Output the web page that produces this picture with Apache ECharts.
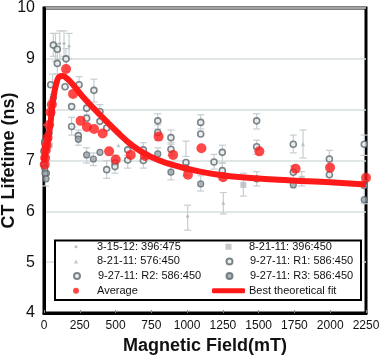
<!DOCTYPE html>
<html><head><meta charset="utf-8">
<script src="https://cdn.jsdelivr.net/npm/echarts@6/dist/echarts.min.js"></script>
<style>html,body{margin:0;padding:0;background:#fff}#c{width:382px;height:360px}</style>
</head><body><div id="c"></div>
<script>
// ---- data (x in mT, y in ns) ----
const xTicks = [0,250,500,750,1000,1250,1500,1750,2000,2250];
const yTicks = [4,5,6,7,8,9,10];

const run31512 = [[80,9.2],[110,9.3],[140,9.3],[175,9.25],[20,7.45],[10,6.7],[1004,5.90],[60,8.5]];
const run82111_576 = [[1253,6.17],[1810,7.32],[50,7.95],[520,7.3],[880,6.95]];
const run82111_396 = [[1393,6.52],[1801,6.64],[40,7.3]];
const runR1 = [[0,7.18],[5,7.37],[28,7.42],[51,7.93],[65,9.27],[93,8.91],[147,8.45],[193,8.06],[245,8.49],[298,7.83],[391,7.96],[438,7.64],[496,6.95],[585,7.21],[694,7.21],[795,7.78],[887,7.45],[992,6.96],[1095,7.75],[1188,6.97],[1246,7.16],[1486,7.78],[1742,7.32],[1994,7.03],[2238,7.32]];
const runR2 = [[5,7.08],[0,6.92],[16,6.75],[35,7.54],[47,8.49],[93,9.19],[154,9.0],[193,7.67],[240,7.49],[298,8.03],[349,8.38],[391,7.77],[438,6.82],[496,6.88],[585,7.01],[694,7.0],[795,7.55],[887,7.22],[992,6.85],[1095,7.52],[1246,6.80],[1486,7.27],[1742,6.77],[1994,6.72],[2238,6.51]];
const runR3 = [[5,7.34],[7,6.75],[14,6.64],[5,6.85],[65,8.23],[240,7.42],[298,7.11],[345,7.03],[391,7.16],[795,7.13],[887,6.77],[1095,6.54],[1486,6.64],[1742,6.52],[2238,6.23]];
const average = [[5,6.92],[8,7.05],[12,7.2],[18,7.3],[25,7.45],[35,7.7],[45,7.95],[55,8.1],[154,8.80],[203,8.31],[256,7.78],[300,7.66],[350,7.62],[410,7.53],[455,7.18],[501,7.02],[606,7.11],[706,7.09],[801,7.47],[902,7.11],[1006,6.72],[1100,7.24],[1251,6.67],[1505,7.18],[1758,6.84],[1999,6.86],[2250,6.66]];
const bestFit = [[0,7.0],[20,7.3],[42,7.66],[63,8.19],[85,8.5],[107,8.65],[130,8.66],[158,8.62],[200,8.5],[273,8.25],[391,7.90],[508,7.57],[624,7.28],[741,7.08],[857,6.95],[1090,6.78],[1300,6.69],[1635,6.62],[1999,6.57],[2250,6.53]];
// error bars: [x, low, high]
const errorBars = [[80,8.95,9.5],[110,9.0,9.55],[140,9.05,9.55],[175,9.0,9.5],[65,9.05,9.5],[93,8.7,9.3],[154,8.75,9.2],[245,8.3,8.65],[349,8.15,8.6],[298,7.9,8.2],[391,7.8,8.1],[240,7.3,7.6],[193,7.5,7.85],[298,6.95,7.25],[345,6.9,7.15],[438,6.65,7.0],[496,6.75,7.1],[585,7.05,7.35],[585,6.85,7.1],[694,7.05,7.35],[694,6.85,7.1],[795,7.62,7.92],[795,7.4,7.7],[795,7.0,7.25],[887,7.32,7.6],[887,7.1,7.35],[887,6.62,6.9],[992,7.08,7.38],[992,6.7,6.98],[1004,5.63,6.12],[1095,7.62,7.9],[1095,6.4,6.7],[1188,6.83,7.12],[1246,6.95,7.3],[1253,5.95,6.37],[1246,6.65,6.95],[1393,6.3,6.75],[1486,7.62,7.92],[1486,7.12,7.4],[1486,6.5,6.78],[1742,7.15,7.5],[1742,6.6,6.9],[1810,7.05,7.6],[1801,6.5,6.78],[1994,6.9,7.2],[1994,6.58,6.85],[2238,7.1,7.5],[2238,6.15,6.6],[50,7.7,8.2],[20,7.2,7.7],[10,6.5,6.9],[60,8.3,8.7]];

const names = ['3-15-12: 396:475','8-21-11: 396:450','8-21-11: 576:450','9-27-11: R1: 586:450','9-27-11: R2: 586:450','9-27-11: R3: 586:450','Average','Best theoretical fit'];

// ---- styling ----
const FONT = 'Liberation Sans';
const RED = '#ff1a1a';
const ERR = '#c6ced1';
const legendCells = [
  {name:names[0], col:0, row:0, w:3, h:3, icon:'circle'},
  {name:names[1], col:1, row:0, w:6, h:6, icon:'rect'},
  {name:names[2], col:0, row:1, w:4, h:4, icon:'triangle'},
  {name:names[3], col:1, row:1, w:6, h:6, icon:'circle'},
  {name:names[4], col:0, row:2, w:6, h:6, icon:'circle'},
  {name:names[5], col:1, row:2, w:6, h:6, icon:'circle'},
  {name:names[6], col:0, row:3, w:6, h:6, icon:'circle'},
  {name:names[7], col:1, row:3, w:33, h:5, icon:'roundRect'}
];
const colIconCenter = [76, 228.5];
const colTextStart = [97, 249];
const legends = legendCells.map(c => {
  const left = colIconCenter[c.col] - c.w/2;
  const pad = colTextStart[c.col] - (left + c.w + 5);
  return {
    data:[{name:c.name, icon:c.icon}], orient:'vertical', left: left, top: 240.7 + c.row*14.7,
    padding:0, itemWidth:c.w, itemHeight:c.h, itemGap:0, z:60, selectedMode:false,
    textStyle:{fontFamily:FONT, fontSize:11, color:'#111', lineHeight:12, padding:[0,0,0,pad]}
  };
});

const chart = echarts.init(document.getElementById('c'), null, {renderer:'canvas'});
chart.setOption({
  animation:false,
  backgroundColor:'#fff',
  grid:{left:44, right:16, top:8, bottom:47, show:true, borderColor:'#000', borderWidth:3, containLabel:false, outerBoundsMode:'none'},
  xAxis:{type:'value', min:xTicks[0], max:xTicks[xTicks.length-1], interval:250,
    name:'Magnetic Field(mT)', nameLocation:'middle', nameGap:24, nameMoveOverlap:false,
    nameTextStyle:{fontFamily:FONT, fontSize:18, fontWeight:'bold', color:'#111'},
    axisLine:{show:true, lineStyle:{color:'#000', width:3}},
    axisTick:{show:true, inside:true, length:3, lineStyle:{color:'#888'}},
    axisLabel:{fontFamily:FONT, fontSize:12, color:'#111', margin:7, formatter:v => String(v)},
    splitLine:{show:false}},
  yAxis:{type:'value', min:yTicks[0], max:yTicks[yTicks.length-1], interval:1,
    name:'CT Lifetime (ns)', nameLocation:'middle', nameGap:26, nameRotate:90, nameMoveOverlap:false,
    nameTextStyle:{fontFamily:FONT, fontSize:18, fontWeight:'bold', color:'#111'},
    axisLine:{show:true, lineStyle:{color:'#000', width:3}},
    axisTick:{show:false},
    axisLabel:{fontFamily:FONT, fontSize:16, color:'#111', margin:9},
    splitLine:{show:true, lineStyle:{color:'#d6dddd', width:1.5}}},
  legend: legends,
  graphic:[{type:'rect', z:50, shape:{x:55, y:240.5, width:306, height:59.5},
    style:{fill:'#fff', stroke:'#000', lineWidth:2}}],
  series:[
    {type:'custom', name:'err', z:1, silent:true, data:errorBars, encode:{x:0, y:[1,2]},
     renderItem:function(params, api){
       const x = api.value(0);
       const p1 = api.coord([x, api.value(1)]);
       const p2 = api.coord([x, api.value(2)]);
       const w = 3.5;
       const st = {stroke:ERR, lineWidth:1.2};
       return {type:'group', children:[
         {type:'line', shape:{x1:p1[0], y1:p1[1], x2:p2[0], y2:p2[1]}, style:st},
         {type:'line', shape:{x1:p1[0]-w, y1:p1[1], x2:p1[0]+w, y2:p1[1]}, style:st},
         {type:'line', shape:{x1:p2[0]-w, y1:p2[1], x2:p2[0]+w, y2:p2[1]}, style:st}
       ]};
     }},
    {type:'scatter', name:names[0], z:2, data:run31512, symbolSize:3, itemStyle:{color:'#a9b3b7'}},
    {type:'scatter', name:names[1], z:2, data:run82111_396, symbol:'rect', symbolSize:6, itemStyle:{color:'#b4bcbf'}},
    {type:'scatter', name:names[2], z:2, data:run82111_576, symbol:'triangle', symbolSize:4, itemStyle:{color:'#b0b9bc'}},
    {type:'scatter', name:names[3], z:2, data:runR1, symbolSize:6, itemStyle:{color:'#e9eeee', borderColor:'#5c686e', borderWidth:1.6}},
    {type:'scatter', name:names[4], z:2, data:runR2, symbolSize:6, itemStyle:{color:'#e9eeee', borderColor:'#5c686e', borderWidth:1.6}},
    {type:'scatter', name:names[5], z:2, data:runR3, symbolSize:6, itemStyle:{color:'#9aa5aa', borderColor:'#5c686e', borderWidth:1.2}},
    {type:'line', name:names[7], z:3, data:bestFit, smooth:0.4, symbol:'none', showSymbol:false,
     lineStyle:{color:RED, width:6}, itemStyle:{color:RED}},
    {type:'scatter', name:names[6], z:4, data:average, symbolSize:10, itemStyle:{color:RED}}
  ]
});
</script></body></html>
